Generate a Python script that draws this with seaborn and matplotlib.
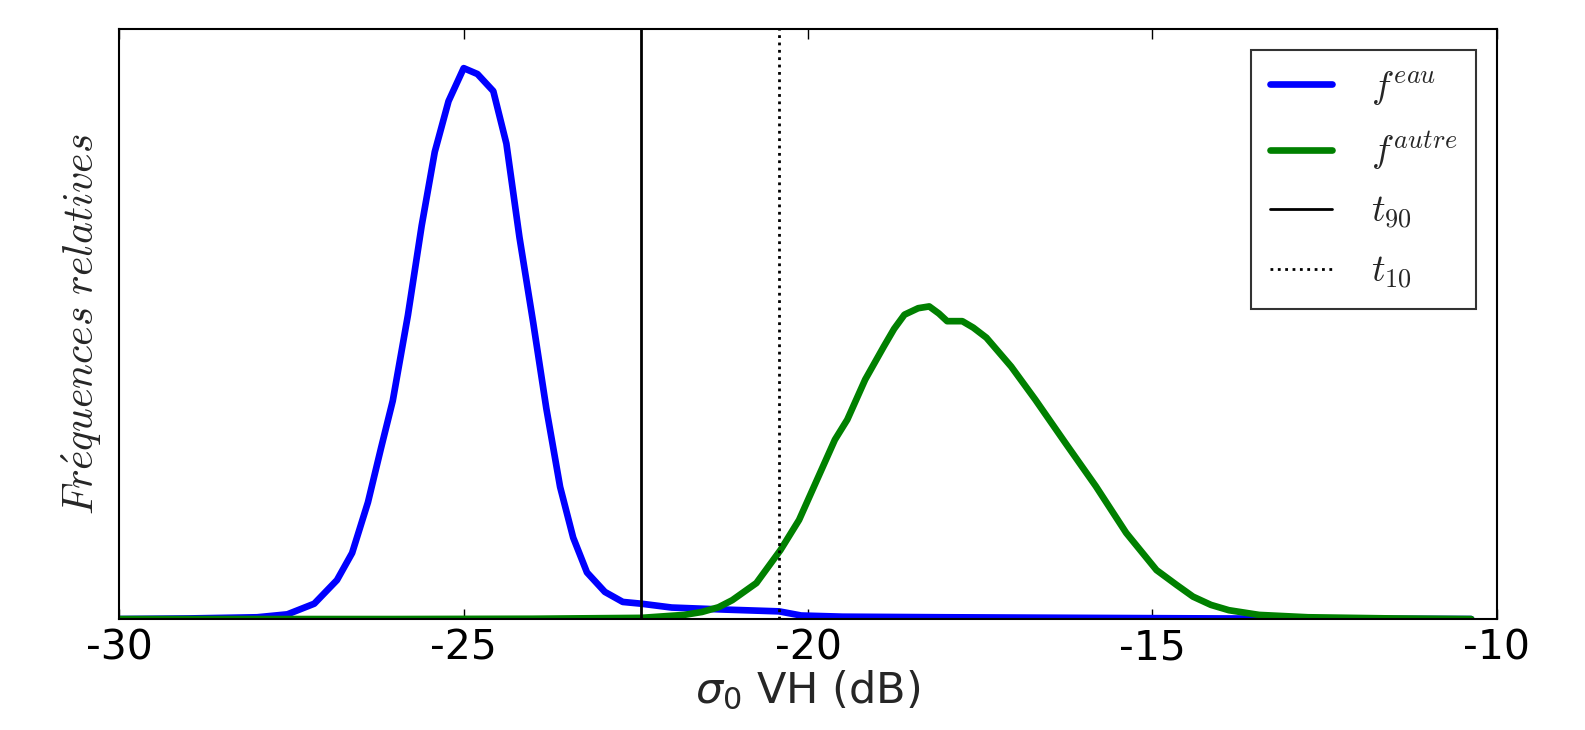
import numpy as np
import pandas as pd
import matplotlib
matplotlib.use("Agg")
import matplotlib.pyplot as plt
import seaborn as sns
from matplotlib.font_manager import FontProperties

# water (eau) distribution of sigma0 VH, relative frequencies
eau_x = [-30.0, -29.0, -28.5, -28.0, -27.56, -27.17, -26.84, -26.62, -26.39, -26.20, -26.03,
         -25.81, -25.61, -25.42, -25.22, -25.0, -24.80, -24.57, -24.38, -24.19, -23.99,
         -23.80, -23.60, -23.41, -23.21, -22.95, -22.69, -22.42, -21.98, -21.2, -20.42,
         -20.1, -19.5, -18.0, -16.0, -14.0, -12.0, -10.37]
eau_y = [0.0, 0.001, 0.002, 0.003, 0.008, 0.026, 0.066, 0.112, 0.198, 0.29, 0.37,
         0.515, 0.667, 0.792, 0.878, 0.934, 0.924, 0.895, 0.806, 0.647, 0.502,
         0.357, 0.224, 0.138, 0.079, 0.046, 0.029, 0.026, 0.0195, 0.016, 0.013,
         0.006, 0.004, 0.003, 0.002, 0.001, 0.0005, 0.0]

# other (autre) distribution
autre_x = [-30.0, -26.0, -24.0, -22.42, -21.8, -21.54, -21.30, -21.10, -20.75, -20.40, -20.13,
           -19.87, -19.61, -19.43, -19.17, -18.90, -18.75, -18.60, -18.40, -18.24, -18.10,
           -17.98, -17.76, -17.60, -17.41, -17.05, -16.70, -16.26, -15.82, -15.38, -14.94,
           -14.65, -14.41, -14.15, -13.89, -13.45, -12.74, -11.5, -10.37]
autre_y = [0.0, 0.0, 0.0005, 0.002, 0.007, 0.012, 0.020, 0.032, 0.061, 0.117, 0.168,
           0.236, 0.304, 0.338, 0.406, 0.462, 0.492, 0.516, 0.527, 0.530, 0.518,
           0.505, 0.505, 0.494, 0.477, 0.428, 0.372, 0.298, 0.225, 0.146, 0.083,
           0.058, 0.038, 0.024, 0.015, 0.007, 0.003, 0.001, 0.0]

# thresholds
t90 = -22.42
t10 = -20.42

xticks = [-30, -25, -20, -15, -10]

sns.set_style("white")
plt.rcParams["font.family"] = ["DejaVu Sans"]

fig = plt.figure(figsize=(15.85, 7.3), dpi=100)
ax = fig.add_axes([0.0753, 0.152, 0.869, 0.808])

df_eau = pd.DataFrame({"x": eau_x, "y": eau_y})
df_autre = pd.DataFrame({"x": autre_x, "y": autre_y})

sns.lineplot(data=df_eau, x="x", y="y", color="#0000ff", lw=4.8, ax=ax,
             label=r"$f^{eau}$", estimator=None)
sns.lineplot(data=df_autre, x="x", y="y", color="#008000", lw=4.8, ax=ax,
             label=r"$f^{autre}$", estimator=None)
ax.axvline(t90, color="black", lw=2, label=r"$t_{90}$")
ax.axvline(t10, color="black", lw=2, ls=":", label=r"$t_{10}$")

ax.set_xlim(-30, -10)
ax.set_ylim(0, 1)
ax.set_xticks(xticks)
ax.set_xticklabels([str(t) for t in xticks])
ax.set_yticks([])
ax.tick_params(axis="x", direction="in", length=7, width=1, top=True, bottom=True,
               labelsize=29.5, pad=7, colors="black")
for s in ax.spines.values():
    s.set_color("black")
    s.set_linewidth(1.5)

ax.set_xlabel(r"$\sigma_0$ VH (dB)", fontsize=31, labelpad=0)
ax.set_ylabel(r"$Fr\acute{e}quences\ relatives$", fontsize=30, labelpad=11,
              math_fontfamily="cm")

leg = ax.legend(loc="upper right", borderaxespad=0.55,
                prop=FontProperties(size=27, math_fontfamily="cm"),
                frameon=True, fancybox=False, edgecolor="black",
                handlelength=1.65, handletextpad=1.05, labelspacing=0.6,
                borderpad=0.5)
leg.get_frame().set_linewidth(1.5)

fig.savefig("out.png", dpi=100, facecolor="white")
